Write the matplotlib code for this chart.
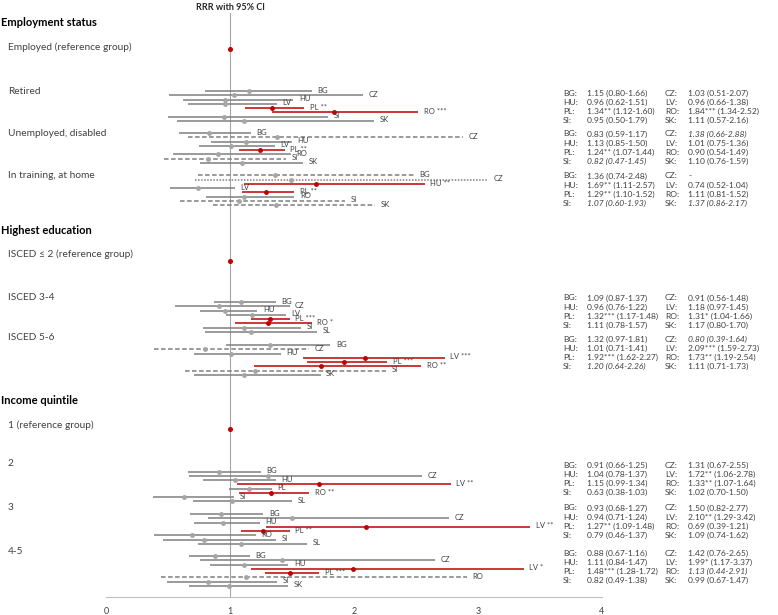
import matplotlib.pyplot as plt
import matplotlib.transforms as mtransforms

countries = ["BG", "CZ", "HU", "LV", "PL", "RO", "SI", "SK"]
groups = ["Retired", "Unemployed, disabled", "In training, at home",
          "ISCED 3-4", "ISCED 5-6", "2", "3", "4-5"]

rrr = [
    [1.15, 1.03, 0.96, 0.96, 1.34, 1.84, 0.95, 1.11],
    [0.83, 1.38, 1.13, 1.01, 1.24, 0.90, 0.82, 1.10],
    [1.36, 1.49, 1.69, 0.74, 1.29, 1.11, 1.07, 1.37],
    [1.09, 0.91, 0.96, 1.18, 1.32, 1.31, 1.11, 1.17],
    [1.32, 0.80, 1.01, 2.09, 1.92, 1.73, 1.20, 1.11],
    [0.91, 1.31, 1.04, 1.72, 1.15, 1.33, 0.63, 1.02],
    [0.93, 1.50, 0.94, 2.10, 1.27, 0.69, 0.79, 1.09],
    [0.88, 1.42, 1.11, 1.99, 1.48, 1.13, 0.82, 0.99],
]
ci_low = [
    [0.80, 0.51, 0.62, 0.66, 1.12, 1.34, 0.50, 0.57],
    [0.59, 0.66, 0.85, 0.75, 1.07, 0.54, 0.47, 0.76],
    [0.74, 0.72, 1.11, 0.52, 1.10, 0.81, 0.60, 0.86],
    [0.87, 0.56, 0.76, 0.97, 1.17, 1.04, 0.78, 0.80],
    [0.97, 0.39, 0.71, 1.59, 1.62, 1.19, 0.64, 0.71],
    [0.66, 0.67, 0.78, 1.06, 0.99, 1.07, 0.38, 0.70],
    [0.68, 0.82, 0.71, 1.29, 1.09, 0.39, 0.46, 0.74],
    [0.67, 0.76, 0.84, 1.17, 1.28, 0.44, 0.49, 0.67],
]
ci_high = [
    [1.66, 2.07, 1.51, 1.38, 1.60, 2.52, 1.79, 2.16],
    [1.17, 2.88, 1.50, 1.36, 1.44, 1.49, 1.45, 1.59],
    [2.48, 3.08, 2.57, 1.04, 1.52, 1.52, 1.93, 2.17],
    [1.37, 1.48, 1.22, 1.45, 1.48, 1.66, 1.57, 1.70],
    [1.81, 1.64, 1.41, 2.73, 2.27, 2.54, 2.26, 1.73],
    [1.25, 2.55, 1.37, 2.78, 1.34, 1.64, 1.03, 1.50],
    [1.27, 2.77, 1.24, 3.42, 1.48, 1.21, 1.37, 1.62],
    [1.16, 2.65, 1.47, 3.37, 1.72, 2.91, 1.38, 1.47],
]
stars = [
    ["", "", "", "", "**", "***", "", ""],
    ["", "", "", "", "**", "", "", ""],
    ["", "", "**", "", "**", "", "", ""],
    ["", "", "", "", "***", "*", "", ""],
    ["", "", "", "***", "***", "**", "", ""],
    ["", "", "", "**", "", "**", "", ""],
    ["", "", "", "**", "**", "", "", ""],
    ["", "", "", "*", "***", "", "", ""],
]
# S solid, D dashed, O dotted (as in the source figure)
line_style = ["SSSSSSSS", "SDSSSSDS", "DOSSSSDD", "SSSSSSSS",
              "SDSSSSDS", "SSSSSSSS", "SSSSSSSS", "SSSSSDSS"]
# italic entries in the side table, "-" = not reported
table_style = ["NNNNNNNN", "NINNNNIN", "N-NNNNII", "NNNNNNNN",
               "NINNNNIN", "NNNNNNNN", "NNNNNNNN", "NNNNNINN"]
# labels as printed next to the lines (with the original typos)
row_names = [countries, countries, countries,
             ["BG", "CZ", "HU", "LV", "PL", "RO", "SI", "SL"],
             countries,
             ["BG", "CZ", "HU", "LV", "PL", "RO", "SI", "SL"],
             ["BG", "CZ", "HU", "LV", "PL", "RO", "SI", "SL"],
             countries]

sections = ["Employment status", "Highest education", "Income quintile"]
ref_groups = ["Employed (reference group)", "ISCED \u2264 2 (reference group)",
              "1 (reference group)"]

# layout (pixel rows from the top of the picture)
section_y = [22, 230, 400]
ref_label_y = [47, 254, 425]
ref_dot_y = [49, 261, 429]
group_label_y = [92, 133, 175, 297, 338, 464, 507, 552]
group_row_y = [91, 133, 175.3, 302, 345, 471.7, 514, 556]
row_step = 4.25
table_step = 9.2

RED = "#c00000"
GREY = "#7f7f7f"
GREY_DOT = "#a5a5a5"
TXT = "#404040"
plt.rcParams["font.family"] = ["Lato", "DejaVu Sans"]

W, H = 778, 615
fig = plt.figure(figsize=(W / 100, H / 100), dpi=100)
ax = fig.add_axes([106 / W, (H - 597) / H, (602 - 106) / W, 597 / H])
ax.set_xlim(0, 4)
ax.set_ylim(597, 0)
for s in ["top", "right", "left"]:
    ax.spines[s].set_visible(False)
ax.spines["bottom"].set_color("#bfbfbf")
ax.set_yticks([])
ax.set_xticks([0, 1, 2, 3, 4])
ax.tick_params(axis="x", length=0, pad=7, labelsize=6.5, labelcolor=TXT)

ax.axvline(1, ymin=0, ymax=1 - 13 / 597, color="#a6a6a6", lw=0.8, zorder=1)
ax.text(1, 7, "RRR with 95% CI", ha="center", va="center",
        fontsize=6.5, fontweight="bold", color="#262626")

left = mtransforms.blended_transform_factory(fig.transFigure, ax.transData)

ls_map = {"S": "-", "D": (0, (3.0, 1.6)), "O": (0, (1.0, 1.0))}

for k in range(3):
    ax.text(1 / W, section_y[k], sections[k], transform=left, ha="left",
            va="center", fontsize=8, fontweight="bold", color="#000000")
    ax.text(8 / W, ref_label_y[k], ref_groups[k], transform=left, ha="left",
            va="center", fontsize=7.3, color=TXT)
    ax.plot([1], [ref_dot_y[k]], "o", ms=2.6, color=RED, zorder=4)

for g, name in enumerate(groups):
    ax.text(8 / W, group_label_y[g], name, transform=left, ha="left",
            va="center", fontsize=7.3, color=TXT)
    for i, c in enumerate(countries):
        y = group_row_y[g] + i * row_step
        sig = stars[g][i] != ""
        col = RED if sig else GREY
        ax.plot([ci_low[g][i], ci_high[g][i]], [y, y], color=col, lw=1.1,
                ls=ls_map[line_style[g][i]], solid_capstyle="butt", zorder=2)
        ax.plot([rrr[g][i]], [y], "o", ms=2.5, color=RED if sig else GREY_DOT,
                zorder=3)
        lab = row_names[g][i] + (" " + stars[g][i] if sig else "")
        ax.text(ci_high[g][i] + 0.045, y - 0.8, lab, ha="left", va="center",
                fontsize=5.5, color=TXT, clip_on=False)

    # side table
    for i, c in enumerate(countries):
        col_x = [563, 587] if i % 2 == 0 else [665, 688]
        y = group_label_y[g] + 1 + (i // 2) * table_step
        st = table_style[g][i]
        if st == "-":
            txt = "-"
        else:
            txt = "%.2f%s (%.2f-%.2f)" % (rrr[g][i], stars[g][i],
                                         ci_low[g][i], ci_high[g][i])
        ax.text(col_x[0] / W, y, c + ":", transform=left, ha="left",
                va="center", fontsize=6.1, color=TXT)
        ax.text(col_x[1] / W, y, txt, transform=left, ha="left", va="center",
                fontsize=6.1, color=TXT, style="italic" if st == "I" else "normal")

fig.savefig("out.png", dpi=100)
